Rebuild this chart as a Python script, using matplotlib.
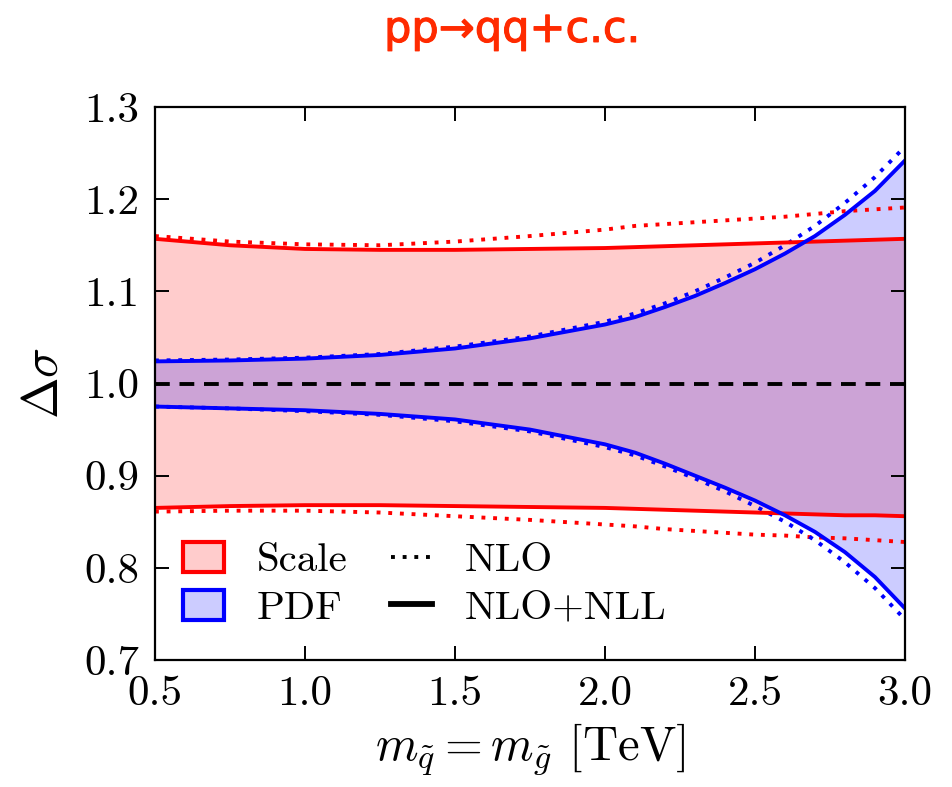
import matplotlib
matplotlib.use("Agg")
import matplotlib.pyplot as plt
import matplotlib.patheffects as pe
from matplotlib.patches import Patch
from matplotlib.lines import Line2D

plt.rcParams["font.family"] = ["cmr10"]
plt.rcParams["mathtext.fontset"] = "cm"
plt.rcParams["axes.formatter.use_mathtext"] = True

# Squark/gluino mass [TeV]
mass = [0.5, 0.75, 1.0, 1.25, 1.5, 1.75, 2.0, 2.1, 2.2, 2.3, 2.4, 2.5,
        2.6, 2.7, 2.8, 2.9, 3.0]

# Scale uncertainty band (relative to central value)
scale_nll_up = [1.157, 1.150, 1.146, 1.145, 1.145, 1.146, 1.147, 1.148, 1.149,
                1.150, 1.151, 1.152, 1.153, 1.154, 1.155, 1.156, 1.157]
scale_nll_dn = [0.865, 0.867, 0.868, 0.868, 0.867, 0.866, 0.865, 0.864, 0.863,
                0.862, 0.861, 0.860, 0.859, 0.858, 0.857, 0.857, 0.856]
scale_nlo_up = [1.160, 1.154, 1.151, 1.150, 1.154, 1.160, 1.167, 1.171, 1.173,
                1.175, 1.177, 1.179, 1.181, 1.184, 1.187, 1.189, 1.191]
scale_nlo_dn = [0.861, 0.862, 0.862, 0.860, 0.856, 0.852, 0.847, 0.845, 0.842,
                0.840, 0.838, 0.836, 0.835, 0.833, 0.832, 0.830, 0.828]

# PDF uncertainty band
pdf_nll_up = [1.024, 1.025, 1.027, 1.031, 1.038, 1.049, 1.064, 1.072, 1.083,
              1.095, 1.109, 1.124, 1.141, 1.160, 1.183, 1.209, 1.242]
pdf_nll_dn = [0.975, 0.973, 0.971, 0.967, 0.961, 0.950, 0.934, 0.925, 0.913,
              0.900, 0.887, 0.873, 0.857, 0.839, 0.817, 0.790, 0.756]
pdf_nlo_up = [1.025, 1.026, 1.028, 1.032, 1.040, 1.051, 1.067, 1.076, 1.087,
              1.100, 1.115, 1.131, 1.150, 1.171, 1.196, 1.224, 1.257]
pdf_nlo_dn = [0.975, 0.973, 0.970, 0.966, 0.959, 0.948, 0.931, 0.922, 0.910,
              0.897, 0.883, 0.867, 0.850, 0.830, 0.806, 0.778, 0.744]

x_ticks = [0.5, 1.0, 1.5, 2.0, 2.5, 3.0]
y_ticks = [0.7, 0.8, 0.9, 1.0, 1.1, 1.2, 1.3]

RED = "#ff0000"
BLUE = "#0000ff"
LW = 2.8
DOT = (0, (1, 2))

fig = plt.figure(figsize=(9.53, 7.87), dpi=100)
ax = fig.add_axes([0.1626, 0.1614, 0.7870, 0.7026])

ax.fill_between(mass, scale_nll_dn, scale_nll_up, color=RED, alpha=0.2, lw=0)
ax.fill_between(mass, pdf_nll_dn, pdf_nll_up, color=BLUE, alpha=0.2, lw=0)

ax.axhline(1.0, color="black", lw=LW, dashes=(3.8, 2.5))

ax.plot(mass, scale_nlo_up, color=RED, lw=LW, linestyle=DOT)
ax.plot(mass, scale_nlo_dn, color=RED, lw=LW, linestyle=DOT)
ax.plot(mass, pdf_nlo_up, color=BLUE, lw=LW, linestyle=DOT)
ax.plot(mass, pdf_nlo_dn, color=BLUE, lw=LW, linestyle=DOT)

ax.plot(mass, scale_nll_up, color=RED, lw=LW)
ax.plot(mass, scale_nll_dn, color=RED, lw=LW)
ax.plot(mass, pdf_nll_up, color=BLUE, lw=LW)
ax.plot(mass, pdf_nll_dn, color=BLUE, lw=LW)

ax.set_xlim(0.5, 3.0)
ax.set_ylim(0.7, 1.3)
ax.set_xticks(x_ticks)
ax.set_yticks(y_ticks)
ax.set_xticklabels([f"{v:.1f}" for v in x_ticks])
ax.set_yticklabels([f"{v:.1f}" for v in y_ticks])
ax.tick_params(direction="in", top=True, right=True, length=10, width=1.4,
               labelsize=31, pad=11)
for s in ax.spines.values():
    s.set_linewidth(1.6)

ax.set_xlabel(r"$m_{\tilde{q}} = m_{\tilde{g}}$ [TeV]", fontsize=35, labelpad=6)
ax.set_ylabel(r"$\Delta\sigma$", fontsize=36, labelpad=12)

handles = [
    Patch(facecolor=(1, 0, 0, 0.2), edgecolor=RED, lw=3, label="Scale"),
    Patch(facecolor=(0, 0, 1, 0.2), edgecolor=BLUE, lw=3, label="PDF"),
    Line2D([], [], color="black", lw=LW, linestyle=DOT, label="NLO"),
    Line2D([], [], color="black", lw=LW * 1.5, label="NLO+NLL"),
]
ax.legend(handles=handles, ncol=2, loc="lower left", frameon=False,
          fontsize=29.5, handlelength=1.0, handleheight=0.75, columnspacing=1.05,
          handletextpad=0.8, labelspacing=0.25, borderaxespad=0,
          bbox_to_anchor=(0.016, 0.03))

fig.text(0.537, 0.962, "pp\u2192qq+c.c.", color="#ff2a00", fontsize=31,
         family=["DejaVu Sans"], ha="center", va="center",
         path_effects=[pe.withStroke(linewidth=0.8, foreground="#ff2a00")])

fig.savefig("out.png", dpi=100)
